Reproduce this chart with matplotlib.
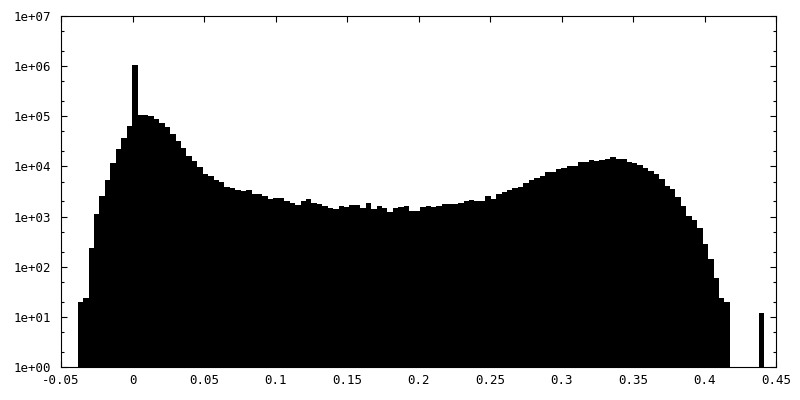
import matplotlib
matplotlib.use('Agg')
import matplotlib.pyplot as plt
import numpy as np

# Histogram data
bin_start = -0.0383
bin_width = 0.0038
counts = [
    20, 24, 237, 1150, 2630, 5400, 11800, 21800, 37000, 64000,
    1070000, 107000, 105000, 100000, 89000, 74000, 62000, 45000, 32500, 23500,
    16300, 12900, 9800, 7100, 6500, 5400, 4900, 3900, 3700, 3400,
    3250, 3400, 2860, 2780, 2620, 2240, 2350, 2350, 2050, 1900,
    1740, 2050, 2240, 1900, 1790, 1620, 1500, 1420, 1620, 1575,
    1700, 1700, 1500, 1860, 1435, 1600, 1480, 1230, 1480, 1550,
    1620, 1290, 1290, 1550, 1660, 1550, 1660, 1790, 1790, 1790,
    1860, 2050, 2150, 2050, 2050, 2580, 2240, 2820, 3080, 3400,
    3700, 3900, 4700, 5400, 5900, 6500, 7800, 7800, 8900, 9300,
    10200, 10200, 12300, 12300, 13400, 12900, 13400, 14200, 15400, 14200,
    14200, 12300, 11700, 10700, 9300, 8100, 7100, 5600, 4100, 3550,
    2460, 1620, 1030, 860, 590, 285, 142, 60, 24, 20,
]
outlier_x = 0.4379
outlier_count = 12

x_ticks = [-0.05, 0.0, 0.05, 0.1, 0.15, 0.2, 0.25, 0.3, 0.35, 0.4, 0.45]
x_labels = ['-0.05', '0', '0.05', '0.1', '0.15', '0.2', '0.25', '0.3', '0.35', '0.4', '0.45']
y_ticks = [1e0, 1e1, 1e2, 1e3, 1e4, 1e5, 1e6, 1e7]
y_labels = ['1e+00', '1e+01', '1e+02', '1e+03', '1e+04', '1e+05', '1e+06', '1e+07']

plt.rcParams['font.family'] = ['DejaVu Sans Mono']
plt.rcParams['font.size'] = 9

fig = plt.figure(figsize=(8, 4), dpi=100)
ax = fig.add_axes([61 / 800, 33 / 400, 715 / 800, 351 / 400])

lefts = bin_start + bin_width * np.arange(len(counts))
ax.bar(lefts, counts, width=bin_width, align='edge', color='black', linewidth=0)
ax.bar([outlier_x], [outlier_count], width=bin_width, align='edge', color='black', linewidth=0)

ax.set_yscale('log')
ax.set_xlim(-0.05, 0.45)
ax.set_ylim(1, 1e7)

ax.set_xticks(x_ticks)
ax.set_xticklabels(x_labels)
ax.set_yticks(y_ticks)
ax.set_yticklabels(y_labels)
minor = [m * 10 ** k for k in range(0, 7) for m in (2, 5)]
ax.set_yticks(minor, minor=True)
ax.set_xticks([], minor=True)

ax.tick_params(axis='both', which='major', direction='in', top=True, right=True,
               length=4, width=0.8, colors='black')
ax.tick_params(axis='both', which='minor', direction='in', top=True, right=True,
               length=2, width=0.8)
ax.tick_params(axis='y', which='major', pad=7)
ax.tick_params(axis='x', which='major', pad=5)

for s in ax.spines.values():
    s.set_linewidth(0.8)
    s.set_color('black')

fig.savefig('out.png', dpi=100)
